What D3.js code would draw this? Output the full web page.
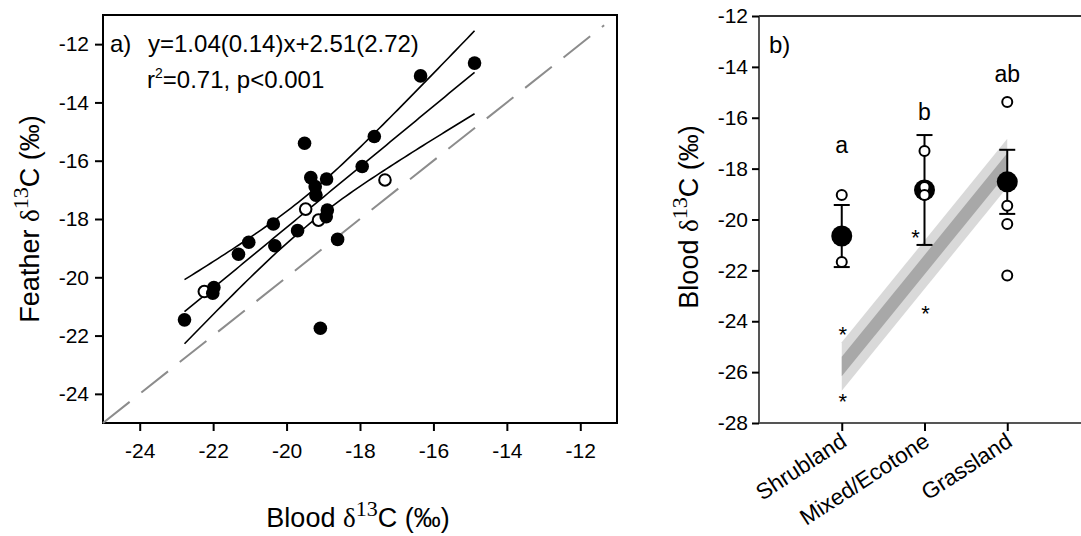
<!DOCTYPE html>
<html>
<head>
<meta charset="utf-8">
<script src="https://cdn.jsdelivr.net/npm/d3@7"></script>
<style>
body { margin: 0; background: #fff; }
svg text { font-family: "Liberation Sans", Arial, sans-serif; fill: #000; }
</style>
</head>
<body>
<svg id="chart" width="1081" height="536"></svg>
<script>
// ---- panel a data: blood vs feather d13C ----
const filledBlood   = [-16.35, -14.88, -19.51, -17.61, -17.94, -19.34, -18.91, -19.22, -19.20, -18.89, -18.92, -18.61, -19.70, -20.36, -21.03, -20.32, -21.31, -21.98, -22.01, -22.78, -19.08];
const filledFeather = [-13.09, -12.65, -15.40, -15.17, -16.20, -16.58, -16.63, -16.89, -17.18, -17.69, -17.92, -18.70, -18.40, -18.17, -18.80, -18.92, -19.21, -20.35, -20.55, -21.46, -21.75];
const openBlood     = [-17.32, -19.48, -19.13, -22.24];
const openFeather   = [-16.66, -17.66, -18.04, -20.49];
const fitCoef = [1.04, 2.51];      // slope, intercept
const fitSE   = [0.14, 2.72];
const tCrit = 2.069;               // df = 23
const oneToOne = [-25, -11.35];
const axisTicksA = [-24, -22, -20, -18, -16, -14, -12];

// ---- panel b data: blood d13C by habitat ----
const habitats  = ["Shrubland", "Mixed/Ecotone", "Grassland"];
const habMeans  = [-20.65, -18.84, -18.52];
const habSD     = [1.22, 2.16, 1.26];
const habLetters = ["a", "b", "ab"];
const letterPos = [-17.4, -16.1, -14.6];
const indivHab  = ["Shrubland", "Shrubland", "Mixed/Ecotone", "Mixed/Ecotone", "Mixed/Ecotone", "Grassland", "Grassland", "Grassland", "Grassland"];
const indivVal  = [-19.04, -21.67, -17.31, -18.72, -19.04, -15.38, -19.46, -20.18, -22.2];
const starHab   = ["Shrubland", "Shrubland", "Mixed/Ecotone", "Mixed/Ecotone"];
const starVal   = [-24.35, -26.98, -20.53, -23.5];
const bandEnds  = ["Shrubland", "Grassland"];
const bandMid   = [-25.78, -17.78];
const bandInner = 0.38, bandOuter = 0.95;
const axisTicksB = [-28, -26, -24, -22, -20, -18, -16, -14, -12];

const svg = d3.select("#chart");

// ================= panel a =================
const xA = d3.scaleLinear().domain([-25, -11]).range([103, 617]);
const yA = d3.scaleLinear().domain([-25, -11]).range([423, 15]);
const ga = svg.append("g");

const yAxA = ga.append("g").attr("transform", "translate(103,0)")
  .call(d3.axisLeft(yA).tickValues(axisTicksA).tickSize(8).tickPadding(6).tickFormat(d => String(d)));
const xAxA = ga.append("g").attr("transform", "translate(0,423)")
  .call(d3.axisBottom(xA).tickValues(axisTicksA).tickSize(8).tickPadding(12).tickFormat(d => String(d)));
[yAxA, xAxA].forEach(ax => {
  ax.select(".domain").remove();
  ax.selectAll("line").attr("stroke", "#000").attr("stroke-width", 2);
  ax.selectAll("text").style("font-size", "21px").attr("font-family", null);
});

ga.append("rect")
  .attr("x", xA(-25)).attr("y", yA(-11))
  .attr("width", xA(-11) - xA(-25)).attr("height", yA(-25) - yA(-11))
  .attr("fill", "none").attr("stroke", "#000").attr("stroke-width", 2);

// 1:1 line
ga.append("line")
  .attr("x1", xA(oneToOne[0])).attr("y1", yA(oneToOne[0]))
  .attr("x2", xA(oneToOne[1])).attr("y2", yA(oneToOne[1]))
  .attr("stroke", "#8c8c8c").attr("stroke-width", 2)
  .attr("stroke-dasharray", "34,15");

// regression + 95% CI
const allX = filledBlood.concat(openBlood);
const n = allX.length;
const xbar = d3.mean(allX);
const sxx = d3.sum(allX, v => (v - xbar) * (v - xbar));
const s2 = fitSE[0] * fitSE[0] * sxx;
const fit = x => fitCoef[0] * x + fitCoef[1];
const hw = x => tCrit * Math.sqrt(s2 / n + fitSE[0] * fitSE[0] * (x - xbar) * (x - xbar));
const xs = d3.range(d3.min(allX), d3.max(allX) + 0.001, 0.1);
xs[xs.length - 1] = d3.max(allX);
const line = d3.line().x(d => xA(d[0])).y(d => yA(d[1]));
[0, 1, -1].forEach(k => {
  ga.append("path")
    .attr("d", line(xs.map(x => [x, fit(x) + k * hw(x)])))
    .attr("fill", "none").attr("stroke", "#000").attr("stroke-width", 1.6);
});

ga.selectAll(".open").data(d3.zip(openBlood, openFeather)).join("circle")
  .attr("cx", d => xA(d[0])).attr("cy", d => yA(d[1])).attr("r", 5.8)
  .attr("fill", "#fff").attr("stroke", "#000").attr("stroke-width", 2);
ga.selectAll(".filled").data(d3.zip(filledBlood, filledFeather)).join("circle")
  .attr("cx", d => xA(d[0])).attr("cy", d => yA(d[1])).attr("r", 6.8)
  .attr("fill", "#000");

ga.append("text").attr("x", 110).attr("y", 52).style("font-size", "24px").text("a)");
ga.append("text").attr("x", 148).attr("y", 52).style("font-size", "24px").text("y=1.04(0.14)x+2.51(2.72)");
const r2 = ga.append("text").attr("x", 147).attr("y", 88).style("font-size", "24px");
r2.append("tspan").text("r");
r2.append("tspan").attr("dy", -10).style("font-size", "14px").text("2");
r2.append("tspan").attr("dy", 10).text("=0.71, p<0.001");

function deltaLabel(sel, pre) {
  sel.append("tspan").text(pre);
  sel.append("tspan").style("font-family", "Liberation Serif").text("δ");
  sel.append("tspan").attr("dy", -11).style("font-family", "Liberation Serif").style("font-size", "22px").text("13");
  sel.append("tspan").attr("dy", 11).text("C (‰)");
}
deltaLabel(ga.append("text").attr("text-anchor", "middle")
  .attr("transform", "translate(39,219) rotate(-90)").style("font-size", "27px"), "Feather ");
deltaLabel(ga.append("text").attr("text-anchor", "middle")
  .attr("x", 358).attr("y", 527).style("font-size", "27px"), "Blood ");

// ================= panel b =================
const xB = d3.scalePoint().domain(habitats).range([759, 1090]).padding(1);
const yB = d3.scaleLinear().domain([-28, -12]).range([423, 16]);
const gb = svg.append("g");

// gray band
const bandPts = bandEnds.map((h, i) => [xB(h), bandMid[i]]);
const area = w => d3.area().x(d => d[0]).y0(d => yB(d[1] - w)).y1(d => yB(d[1] + w))(bandPts);
gb.append("path").attr("d", area(bandOuter)).attr("fill", "#d9d9d9");
gb.append("path").attr("d", area(bandInner)).attr("fill", "#a8a8a8");

const yAxB = gb.append("g").attr("transform", "translate(759,0)")
  .call(d3.axisLeft(yB).tickValues(axisTicksB).tickSize(7).tickPadding(4).tickFormat(d => String(d)));
const xAxB = gb.append("g").attr("transform", "translate(0,423)")
  .call(d3.axisBottom(xB).tickSize(8));
[yAxB, xAxB].forEach(ax => {
  ax.select(".domain").attr("stroke", "#555").attr("stroke-width", 2);
  ax.selectAll("line").attr("stroke", "#000").attr("stroke-width", 2);
  ax.selectAll("text").attr("font-family", null);
});
yAxB.select(".domain").attr("d", "M0,423V16");
xAxB.select(".domain").attr("d", "M759,0H1081");
yAxB.selectAll("text").style("font-size", "21px");
xAxB.selectAll("text").style("font-size", "22.5px")
  .attr("text-anchor", "end").attr("y", 0).attr("dy", 0)
  .attr("transform", "translate(6,22) rotate(-33)");
gb.append("line").attr("x1", 759).attr("x2", 1081).attr("y1", 16).attr("y2", 16)
  .attr("stroke", "#333").attr("stroke-width", 2);

// error bars and means
habitats.forEach((h, i) => {
  const cx = xB(h);
  const lo = habMeans[i] - habSD[i], hi = habMeans[i] + habSD[i];
  gb.append("line").attr("x1", cx).attr("x2", cx).attr("y1", yB(lo)).attr("y2", yB(hi))
    .attr("stroke", "#000").attr("stroke-width", 2);
  [lo, hi].forEach(v => gb.append("line").attr("x1", cx - 8).attr("x2", cx + 8)
    .attr("y1", yB(v)).attr("y2", yB(v)).attr("stroke", "#000").attr("stroke-width", 2));
  gb.append("circle").attr("cx", cx).attr("cy", yB(habMeans[i])).attr("r", 10.5).attr("fill", "#000");
  gb.append("text").attr("x", cx).attr("y", yB(letterPos[i])).attr("text-anchor", "middle")
    .style("font-size", "23px").text(habLetters[i]);
});

gb.selectAll(".indiv").data(d3.zip(indivHab, indivVal)).join("circle")
  .attr("cx", d => xB(d[0])).attr("cy", d => yB(d[1])).attr("r", 5)
  .attr("fill", "#fff").attr("stroke", "#000").attr("stroke-width", 2);

// asterisks, nudged left when they sit on an error bar
gb.selectAll(".star").data(d3.zip(starHab, starVal)).join("text")
  .attr("x", d => {
    const i = habitats.indexOf(d[0]);
    const onBar = Math.abs(d[1] - habMeans[i]) < habSD[i];
    return xB(d[0]) + (onBar ? -9 : 1);
  })
  .attr("y", d => yB(d[1]) + 12)
  .attr("text-anchor", "middle").style("font-size", "22px").text("*");

gb.append("text").attr("x", 769).attr("y", 53).style("font-size", "24px").text("b)");
deltaLabel(gb.append("text").attr("text-anchor", "middle")
  .attr("transform", "translate(698,217) rotate(-90)").style("font-size", "27px"), "Blood ");
</script>
</body>
</html>
